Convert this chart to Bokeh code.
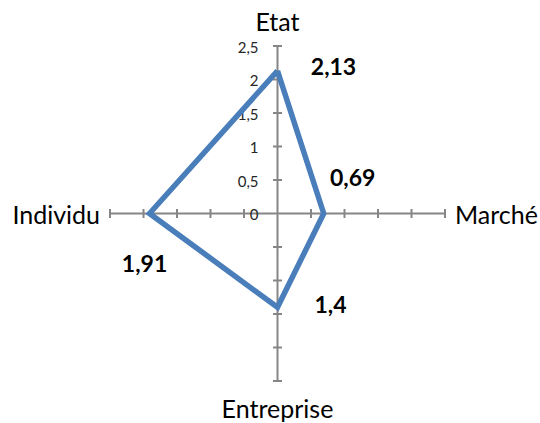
import numpy as np
from bokeh.plotting import figure
from bokeh.models import Range1d
from bokeh.core.properties import value
from bokeh.embed import file_html
from bokeh.resources import INLINE

# ---- data ----
categories = ["Etat", "Marché", "Entreprise", "Individu"]
values = [2.13, 0.69, 1.4, 1.91]
value_labels = ["2,13", "0,69", "1,4", "1,91"]
tick_values = [0, 0.5, 1, 1.5, 2, 2.5]
tick_labels = ["0", "0,5", "1", "1,5", "2", "2,5"]
max_value = 2.5

# ---- style / layout ----
W, H = 540, 423
cx_px, cy_px = 277, 213          # centre of radar in figure pixels
ppu = 67.0                       # pixels per unit
FONT = "Lato"
axis_color = "#868686"
series_color = "#4A7EBB"
tick_half = 4.5 / ppu
cat_offsets = [(0, -25), (10, 0), (0, 27), (-10, 0)]
cat_align = ["center", "left", "center", "right"]
lab_offsets = [(56, -4), (29, -36), (53, -3), (-5, 50)]

n = len(categories)
angles = np.pi / 2 - np.arange(n) * 2 * np.pi / n

p = figure(width=W, height=H, output_backend="svg", toolbar_location=None,
           x_range=Range1d(-cx_px / ppu, (W - cx_px) / ppu),
           y_range=Range1d(-(H - cy_px) / ppu, cy_px / ppu),
           min_border=0, x_axis_type=None, y_axis_type=None)
p.grid.visible = False
p.outline_line_color = None
p.background_fill_color = "white"
p.border_fill_color = "white"

# axes
ca, sa = np.cos(angles), np.sin(angles)
p.segment(x0=np.zeros(n), y0=np.zeros(n), x1=max_value * ca, y1=max_value * sa,
          line_color=axis_color, line_width=2)
# tick marks
tx0, ty0, tx1, ty1 = [], [], [], []
for a in angles:
    for t in tick_values[1:]:
        px, py = t * np.cos(a), t * np.sin(a)
        nx, ny = -np.sin(a), np.cos(a)
        tx0.append(px - nx * tick_half); ty0.append(py - ny * tick_half)
        tx1.append(px + nx * tick_half); ty1.append(py + ny * tick_half)
p.segment(x0=tx0, y0=ty0, x1=tx1, y1=ty1, line_color=axis_color, line_width=2)

# tick labels along first axis
p.text(x=[t * ca[0] for t in tick_values], y=[t * sa[0] for t in tick_values],
       text=tick_labels, x_offset=-19, y_offset=1,
       text_align="right", text_baseline="middle",
       text_font=value(FONT), text_font_size="15px", text_color="#262626")

# series polygon
vals = np.array(values)
xs = list(vals * ca) + [vals[0] * ca[0]]
ys = list(vals * sa) + [vals[0] * sa[0]]
p.line(xs, ys, line_color=series_color, line_width=5.5, line_join="miter")

# category labels
for i in range(n):
    p.text(x=[max_value * ca[i]], y=[max_value * sa[i]], text=[categories[i]],
           x_offset=cat_offsets[i][0], y_offset=cat_offsets[i][1],
           text_align=cat_align[i], text_baseline="middle",
           text_font=value(FONT), text_font_size="25px", text_color="black")

# data labels
for i in range(n):
    p.text(x=[vals[i] * ca[i]], y=[vals[i] * sa[i]], text=[value_labels[i]],
           x_offset=lab_offsets[i][0], y_offset=lab_offsets[i][1],
           text_align="center", text_baseline="middle",
           text_font=value(FONT), text_font_size="23px", text_font_style="bold",
           text_color="black")

open("out.html", "w").write(file_html(p, INLINE))
